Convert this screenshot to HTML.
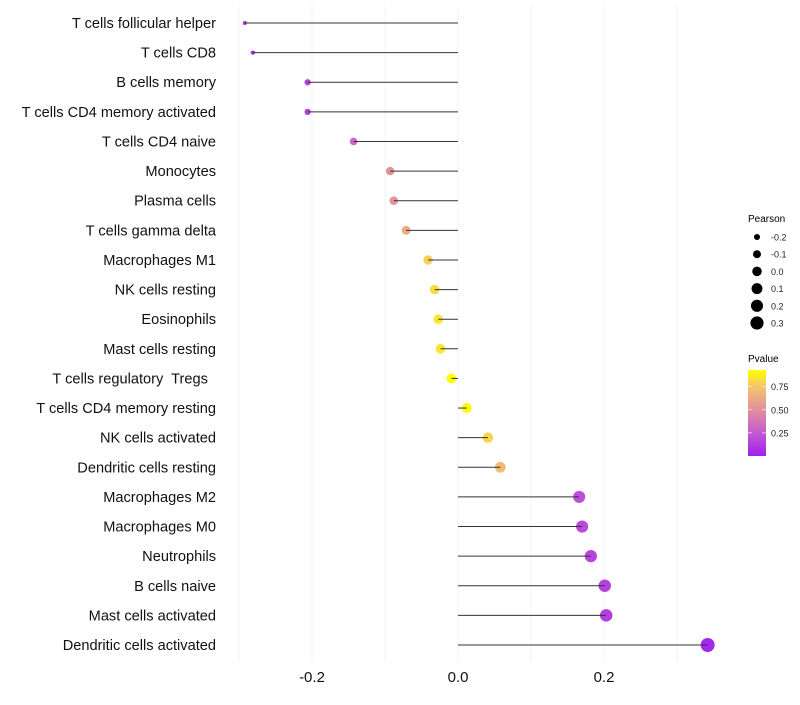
<!DOCTYPE html>
<html><head><meta charset="utf-8"><style>
body{margin:0;background:#fff;width:800px;height:700px;overflow:hidden}
svg{font-family:"Liberation Sans",sans-serif}
</style></head><body>
<svg id="chart" width="800" height="700">
<defs>
<linearGradient id="pg" x1="0" y1="1" x2="0" y2="0">
<stop offset="0" stop-color="#a020f0"/>
<stop offset="0.27" stop-color="#c45ad0"/>
<stop offset="0.54" stop-color="#e3909c"/>
<stop offset="0.8" stop-color="#f4c46e"/>
<stop offset="1" stop-color="#ffff00"/>
</linearGradient>
</defs>
<g id="grid"></g>
<g id="marks"></g>
<g id="ylabels"></g>
<g id="xlabels"></g>
<g id="sizeLegend">
<text x="748" y="222" font-size="10">Pearson</text>
</g>
<g>
<text x="748" y="362" font-size="10">Pvalue</text>
<rect x="748" y="370" width="18" height="86" fill="url(#pg)"/>
<g id="cbTicks"></g>
</g>
</svg>
<script>
const categories=["T cells follicular helper","T cells CD8","B cells memory","T cells CD4 memory activated","T cells CD4 naive","Monocytes","Plasma cells","T cells gamma delta","Macrophages M1","NK cells resting","Eosinophils","Mast cells resting","T cells regulatory  Tregs  ","T cells CD4 memory resting","NK cells activated","Dendritic cells resting","Macrophages M2","Macrophages M0","Neutrophils","B cells naive","Mast cells activated","Dendritic cells activated"];
const pearson=[-0.292,-0.281,-0.206,-0.206,-0.143,-0.093,-0.088,-0.071,-0.041,-0.032,-0.027,-0.024,-0.009,0.012,0.041,0.058,0.166,0.170,0.182,0.201,0.203,0.342];
const pvalue=[0.05,0.08,0.15,0.15,0.32,0.52,0.52,0.62,0.78,0.82,0.85,0.85,0.95,0.92,0.8,0.7,0.2,0.18,0.16,0.14,0.13,0.03];
const xTicks=[-0.2,0,0.2];
const xTickLabels=["-0.2","0.0","0.2"];
const gridVals=[-0.3,-0.2,-0.1,0,0.1,0.2,0.3];
const sizeLegendVals=[-0.2,-0.1,0.0,0.1,0.2,0.3];
const sizeLegendLabels=["-0.2","-0.1","0.0","0.1","0.2","0.3"];
const cbVals=[0.25,0.5,0.75];
const cbLabels=["0.25","0.50","0.75"];

const NS="http://www.w3.org/2000/svg";
const x=v=>458+v*730;
const y=i=>23+i*(622/21);
const r=v=>Math.sqrt(Math.max(1,24.7+71.4*v));
const pY=p=>456-(p-0.0)/0.93*86;
function lerp(a,b,t){return a+(b-a)*t}
const stops=[[0,[160,32,240]],[0.27,[196,90,208]],[0.54,[227,144,156]],[0.8,[244,196,110]],[1,[255,255,0]]];
function col(p){p=Math.max(0,Math.min(1,p/0.93));for(let k=1;k<stops.length;k++){if(p<=stops[k][0]){const t=(p-stops[k-1][0])/(stops[k][0]-stops[k-1][0]);const c=stops[k-1][1].map((a,j)=>Math.round(lerp(a,stops[k][1][j],t)));return `rgb(${c})`;}}return 'rgb(255,255,0)';}
function mk(tag,attrs,parent){const e=document.createElementNS(NS,tag);for(const k in attrs)e.setAttribute(k,attrs[k]);parent.appendChild(e);return e;}
const grid=document.getElementById('grid');
gridVals.forEach(v=>{const l=mk('line',{x1:x(v),x2:x(v),y1:5,y2:662,stroke:'#f3f3f3','stroke-width':1},grid);

});
const marks=document.getElementById('marks');
const yl=document.getElementById('ylabels');
categories.forEach((c,i)=>{
 const cy=y(i);
 const d=mk('circle',{cx:x(pearson[i]),cy:cy,r:r(pearson[i]),fill:col(pvalue[i])},marks);
 
 
 const l=mk('line',{x1:x(pearson[i]),x2:x(0),y1:cy,y2:cy,stroke:'#333','stroke-width':1},marks);
 
 
 const t=mk('text',{x:216,y:cy+5,'text-anchor':'end','font-size':14.6,fill:'#111'},yl);
 t.setAttribute('xml:space','preserve');
 t.style.whiteSpace='pre';
 t.textContent=c;
 
 
});
const xl=document.getElementById('xlabels');
xTicks.forEach((v,i)=>{const t=mk('text',{x:x(v),y:682,'text-anchor':'middle','font-size':15,fill:'#111'},xl);t.textContent=xTickLabels[i];

});
const sl=document.getElementById('sizeLegend');
sizeLegendVals.forEach((v,i)=>{const cy=237+i*17.2;
const c=mk('circle',{cx:757,cy:cy,r:r(v)-0.2,fill:'#000'},sl);


const t=mk('text',{x:771,y:cy+3.5,'font-size':9,fill:'#222'},sl);t.textContent=sizeLegendLabels[i];

});
const cb=document.getElementById('cbTicks');
cbVals.forEach((v,i)=>{const yy=pY(v);
mk('line',{x1:748,x2:752,y1:yy,y2:yy,stroke:'#fff','stroke-width':0.6},cb);
mk('line',{x1:762,x2:766,y1:yy,y2:yy,stroke:'#fff','stroke-width':0.6},cb);
const t=mk('text',{x:771,y:yy+3.5,'font-size':9,fill:'#222'},cb);t.textContent=cbLabels[i];

});
</script>
</body></html>
